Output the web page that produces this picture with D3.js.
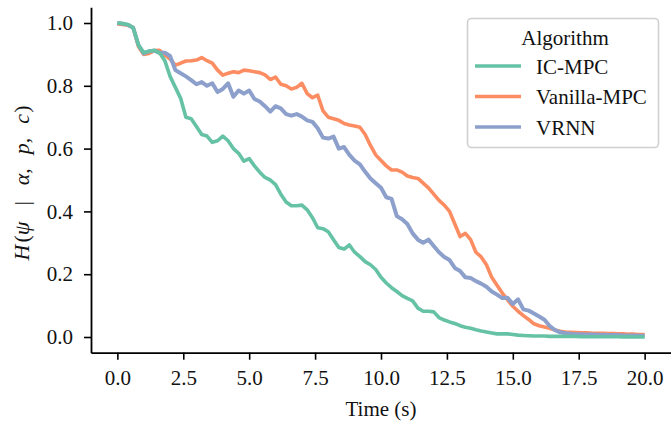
<!DOCTYPE html>
<html><head><meta charset="utf-8">
<script src="https://cdn.jsdelivr.net/npm/d3@7"></script>
<style>
body{margin:0;background:#fff;}
text{font-family:"Liberation Serif","Times New Roman",serif;}
</style></head>
<body><svg id="c" width="671" height="422"></svg>
<script>
const times = d3.range(0, 101).map(i => +(i * 0.2).toFixed(1));
const seriesNames = ["IC-MPC", "Vanilla-MPC", "VRNN"];
const icMpc = [1.0,0.998,0.995,0.985,0.93,0.905,0.91,0.913,0.905,0.88,
0.83,0.795,0.76,0.70,0.695,0.67,0.645,0.64,0.62,0.625,
0.64,0.625,0.60,0.585,0.56,0.568,0.545,0.525,0.508,0.50,
0.485,0.455,0.43,0.418,0.418,0.42,0.405,0.38,0.348,0.345,
0.335,0.31,0.285,0.28,0.293,0.27,0.256,0.24,0.23,0.215,
0.19,0.172,0.157,0.145,0.132,0.123,0.115,0.092,0.082,0.082,
0.08,0.062,0.054,0.048,0.043,0.036,0.031,0.028,0.023,0.019,
0.016,0.013,0.010,0.010,0.010,0.008,0.006,0.005,0.004,0.003,
0.003,0.003,0.002,0.002,0.002,0.002,0.002,0.002,0.001,0.001,
0.001,0.001,0.001,0.001,0.001,0.001,0.0005,0.0005,0.0,0.0,0.0];
const vanillaMpc = [0.997,0.995,0.993,0.985,0.925,0.90,0.903,0.912,0.913,0.898,
0.885,0.866,0.872,0.879,0.88,0.882,0.89,0.88,0.872,0.85,
0.834,0.84,0.845,0.842,0.85,0.848,0.845,0.842,0.835,0.82,
0.828,0.805,0.80,0.79,0.795,0.808,0.775,0.762,0.77,0.72,
0.70,0.695,0.69,0.68,0.675,0.672,0.668,0.645,0.61,0.58,
0.562,0.545,0.532,0.532,0.525,0.513,0.508,0.505,0.49,0.475,
0.455,0.435,0.42,0.40,0.36,0.32,0.33,0.31,0.27,0.255,
0.23,0.19,0.165,0.14,0.118,0.098,0.082,0.068,0.056,0.042,
0.036,0.032,0.028,0.022,0.018,0.016,0.015,0.014,0.013,0.013,
0.012,0.012,0.012,0.011,0.011,0.010,0.010,0.009,0.009,0.008,0.0075];
const vrnn = [1.0,0.998,0.994,0.985,0.93,0.903,0.91,0.912,0.905,0.905,
0.895,0.85,0.84,0.83,0.818,0.805,0.812,0.80,0.808,0.78,
0.79,0.808,0.765,0.785,0.775,0.785,0.758,0.75,0.735,0.718,
0.735,0.728,0.71,0.705,0.71,0.702,0.69,0.685,0.665,0.635,
0.632,0.638,0.60,0.605,0.58,0.562,0.55,0.526,0.505,0.49,
0.475,0.445,0.44,0.385,0.375,0.36,0.33,0.31,0.30,0.31,
0.29,0.27,0.255,0.245,0.22,0.21,0.19,0.188,0.178,0.17,
0.16,0.145,0.135,0.124,0.125,0.105,0.12,0.088,0.084,0.075,
0.065,0.055,0.035,0.022,0.015,0.012,0.010,0.009,0.009,0.008,
0.008,0.007,0.007,0.006,0.006,0.006,0.005,0.005,0.005,0.004,0.004];
const xTicks = [0,2.5,5,7.5,10,12.5,15,17.5,20];
const yTicks = [0,0.2,0.4,0.6,0.8,1.0];
const colors = ["#66c2a5","#fc8d62","#8da0cb"];

const svg = d3.select("#c");
const x = d3.scaleLinear().domain([-1,21]).range([91,671]);
const y = d3.scaleLinear().domain([-0.05,1.05]).range([352.7,7.3]);
const FS = 21;

const data = [icMpc, vanillaMpc, vrnn];
const widths = [3.6,3.6,4.0];
const line = d3.line().x((d,i)=>x(times[i])).y(d=>y(d));
[1,2,0].forEach(k=>{
  svg.append("path").datum(data[k]).attr("d",line)
    .attr("fill","none").attr("stroke",colors[k]).attr("stroke-width",widths[k])
    .attr("stroke-linejoin","round").attr("stroke-linecap","butt");
});

const xa = svg.append("g").attr("transform","translate(0,352.7)")
  .call(d3.axisBottom(x).tickValues(xTicks).tickFormat(d3.format(".1f")).tickSize(7).tickSizeOuter(0).tickPadding(10));
const ya = svg.append("g").attr("transform","translate(91,0)")
  .call(d3.axisLeft(y).tickValues(yTicks).tickFormat(d3.format(".1f")).tickSize(7).tickSizeOuter(0).tickPadding(11));
[xa,ya].forEach(a=>{
  a.select(".domain").attr("stroke","#000").attr("stroke-width",1.8);
  a.selectAll(".tick line").attr("stroke","#000").attr("stroke-width",1.6);
  a.selectAll(".tick text").attr("font-size",FS).attr("fill","#111")
   .style("font-family","'Liberation Serif','Times New Roman',serif");
});

svg.append("text").attr("x",x(10)).attr("y",416).attr("text-anchor","middle")
  .attr("font-size",FS).attr("fill","#111").text("Time (s)");

const yl = svg.append("text").attr("transform","translate(29,183) rotate(-90)")
  .attr("text-anchor","middle").attr("font-size",22).attr("fill","#111");
yl.append("tspan").attr("font-style","italic").text("H");
yl.append("tspan").attr("dx",2).text("(");
yl.append("tspan").attr("font-style","italic").text("ψ");
yl.append("tspan").attr("dx",16).text("|");
yl.append("tspan").attr("dx",16).attr("font-style","italic").text("α");
yl.append("tspan").text(",");
yl.append("tspan").attr("dx",14).attr("font-style","italic").text("p");
yl.append("tspan").text(",");
yl.append("tspan").attr("dx",14).attr("font-style","italic").text("c");
yl.append("tspan").attr("dx",1).text(")");

const lg = svg.append("g");
lg.append("rect").attr("x",467.5).attr("y",18.5).attr("width",191).attr("height",129)
  .attr("rx",4).attr("fill","#fff").attr("fill-opacity",0.8).attr("stroke","#d0d0d0").attr("stroke-width",1.6);
lg.append("text").attr("x",565).attr("y",45).attr("text-anchor","middle")
  .attr("font-size",FS).attr("fill","#111").text("Algorithm");
seriesNames.forEach((n,i)=>{
  const yy = 66 + i*30.5;
  lg.append("line").attr("x1",475).attr("x2",521).attr("y1",yy).attr("y2",yy)
    .attr("stroke",colors[i]).attr("stroke-width",3.6);
  lg.append("text").attr("x",536).attr("y",yy+7.5).attr("font-size",FS).attr("fill","#111").text(n);
});
</script></body></html>
